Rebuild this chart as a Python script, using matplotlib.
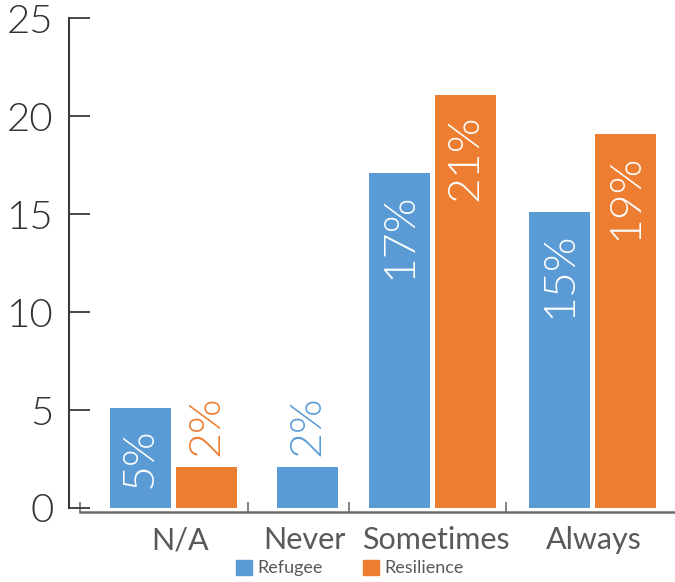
import matplotlib
matplotlib.use("Agg")
import matplotlib.pyplot as plt
from matplotlib.patches import Patch

categories = ["N/A", "Never", "Sometimes", "Always"]
refugee = [5.1, 2.1, 17.1, 15.1]
resilience = [2.1, 0, 21.1, 19.1]
refugee_labels = ["5%", "2%", "17%", "15%"]
resilience_labels = ["2%", "", "21%", "19%"]
yticks = [0, 5, 10, 15, 20, 25]

# layout (pixel-like x units)
ref_centers = [140.5, 307.5, 399.5, 559.5]
res_offset = 66
bar_w = 61
cat_label_x = [180, 304, 435.5, 593.5]
sep_ticks = [80, 248, 349, 506]

blue = "#5B9BD5"
orange = "#ED7D31"
axis_col = "#3a3a3a"
text_col = "#595959"

W, H = 675, 582
fig = plt.figure(figsize=(W / 100, H / 100), dpi=100)
ax = fig.add_axes([69 / W, 1 - 508 / H, (675 - 69) / W, (508 - 18.3) / H])
ax.set_xlim(69, 675)
ax.set_ylim(0, 25)

res_centers = [c + res_offset for c in ref_centers]
ax.bar(ref_centers, refugee, width=bar_w, color=blue, zorder=2)
ax.bar(res_centers, resilience, width=bar_w, color=orange, zorder=2)

fam = ["Lato", "DejaVu Sans"]
thin = dict(family=fam, fontweight=300)

def label(x, v, txt, col):
    if not txt:
        return
    if v > 4:
        ax.annotate(txt, (x, v), xytext=(0, -14), textcoords="offset points",
                    rotation=90, ha="center", va="top", color="white",
                    fontsize=32, **thin)
    else:
        ax.annotate(txt, (x, v), xytext=(0, 8), textcoords="offset points",
                    rotation=90, ha="center", va="bottom", color=col,
                    fontsize=32, **thin)

for x, v, t in zip(ref_centers, refugee, refugee_labels):
    label(x, v, t, blue)
for x, v, t in zip(res_centers, resilience, resilience_labels):
    label(x, v, t, orange)

for s in ["top", "right"]:
    ax.spines[s].set_visible(False)
ax.spines["left"].set_color(axis_col)
ax.spines["left"].set_linewidth(1.5)
ax.spines["left"].set_bounds(0, 25)
ax.spines["bottom"].set_color("#6e6e6e")
ax.spines["bottom"].set_linewidth(1.8)
ax.spines["bottom"].set_position(("outward", 3))
ax.spines["bottom"].set_bounds(80, 675)

ax.set_yticks(yticks)
ax.set_yticklabels([str(t) for t in yticks])
ax.tick_params(axis="y", direction="in", length=15, width=1.3, color=axis_col,
               pad=11, labelsize=29, labelcolor="#333333")
for lab in ax.get_yticklabels():
    lab.set_family(fam)
    lab.set_fontweight(300)

ax.set_xticks(sep_ticks)
ax.set_xticklabels([])
ax.tick_params(axis="x", which="major", direction="in", length=7.5, width=1.2,
               color="#6e6e6e")
ax.set_xticks(cat_label_x, minor=True)
ax.set_xticklabels(categories, minor=True)
ax.tick_params(axis="x", which="minor", length=0, pad=10, labelsize=22,
               labelcolor=text_col)
for lab in ax.get_xticklabels(minor=True):
    lab.set_family(fam)

handles = [Patch(color=blue, label="Refugee"), Patch(color=orange, label="Resilience")]
fig.legend(handles=handles, loc="center", bbox_to_anchor=(350 / W, 1 - 568 / H),
           ncol=2, frameon=False, handlelength=0.9, handleheight=0.9,
           handletextpad=0.3, columnspacing=2.2,
           labelcolor=text_col, prop={"family": fam, "size": 13})

fig.savefig("out.png", dpi=100)
